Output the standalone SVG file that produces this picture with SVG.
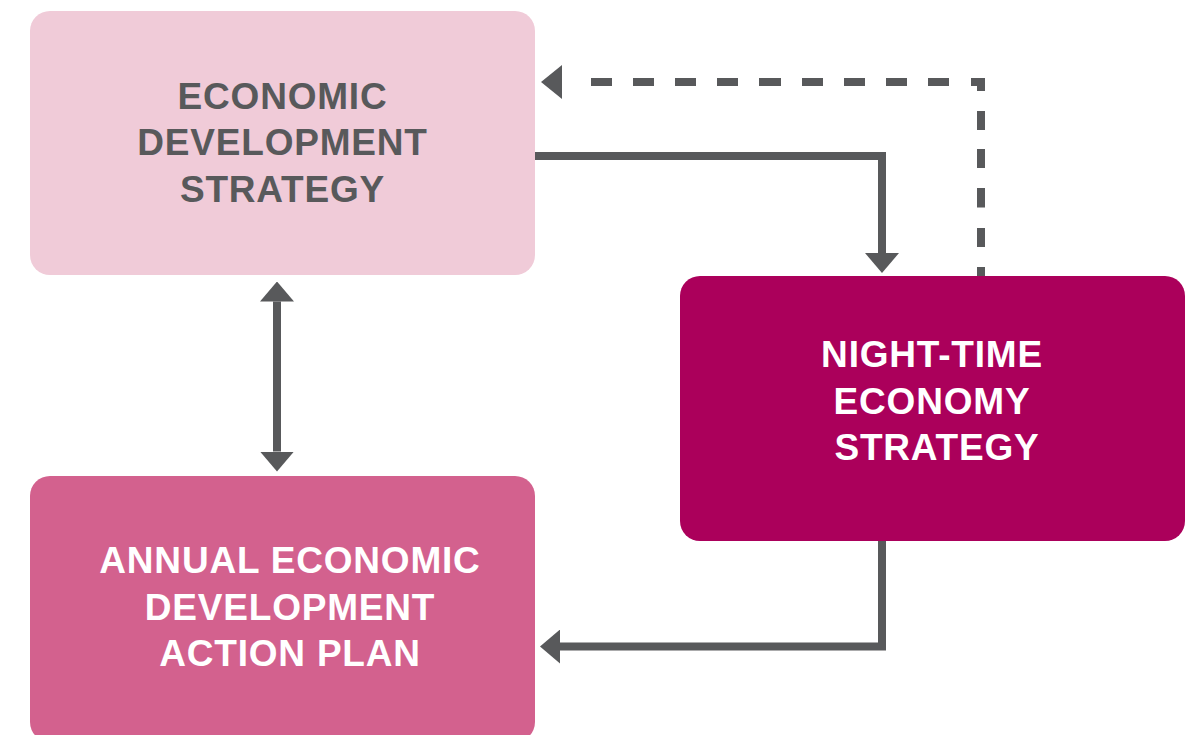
<svg xmlns="http://www.w3.org/2000/svg" width="1195" height="735" viewBox="0 0 1195 735">
<style>
.lbl{font-family:"Liberation Sans",Arial,sans-serif;font-weight:bold;font-size:37px;letter-spacing:0.8px;text-anchor:middle}
.dark{fill:#58595b}
.light{fill:#ffffff}
.conn{fill:none;stroke:#58595b;stroke-width:8;stroke-linejoin:miter;stroke-linecap:butt}
</style>
<defs>
<marker id="arr" markerUnits="userSpaceOnUse" viewBox="0 0 20 34" refX="0" refY="17" markerWidth="20" markerHeight="34" orient="auto-start-reverse">
<path d="M0,0 L20,17 L0,34 Z" fill="#58595b"/>
</marker>
</defs>
<rect width="1195" height="735" fill="#ffffff"/>
<g id="connectors">
<path class="conn" d="M535,156 H882 V253" marker-end="url(#arr)"/>
<path class="conn" d="M882,540 V646.5 H560" marker-end="url(#arr)"/>
<path class="conn" d="M277,301.5 V451.5" marker-start="url(#arr)" marker-end="url(#arr)"/>
<path class="conn" d="M981,276 V82 H590" stroke-dasharray="9 20 19 20.5 19.5 20 19 19 19 20 19 22 21 21 21 21 21 21 21 21 22 21 21 21 21 21 21 21 21 21 22"/>
<path d="M562,65 L541,82 L562,99 Z" fill="#58595b"/>
</g>
<g id="node-eds">
<rect x="30" y="11" width="505" height="264" rx="20" fill="#f0cbd8"/>
<text class="lbl dark" x="282.5" y="108.5">ECONOMIC</text>
<text class="lbl dark" x="282.5" y="155">DEVELOPMENT</text>
<text class="lbl dark" x="282.5" y="201.5">STRATEGY</text>
</g>
<g id="node-aedap">
<rect x="30" y="476" width="505" height="266" rx="20" fill="#d3618e"/>
<text class="lbl light" x="290" y="573">ANNUAL ECONOMIC</text>
<text class="lbl light" x="290" y="619.5">DEVELOPMENT</text>
<text class="lbl light" x="290" y="666">ACTION PLAN</text>
</g>
<g id="node-nte">
<rect x="680" y="276" width="505" height="265" rx="20" fill="#ab005b"/>
<text class="lbl light" x="932" y="367">NIGHT-TIME</text>
<text class="lbl light" x="932" y="413.5">ECONOMY</text>
<text class="lbl light" x="937" y="460">STRATEGY</text>
</g>
</svg>
